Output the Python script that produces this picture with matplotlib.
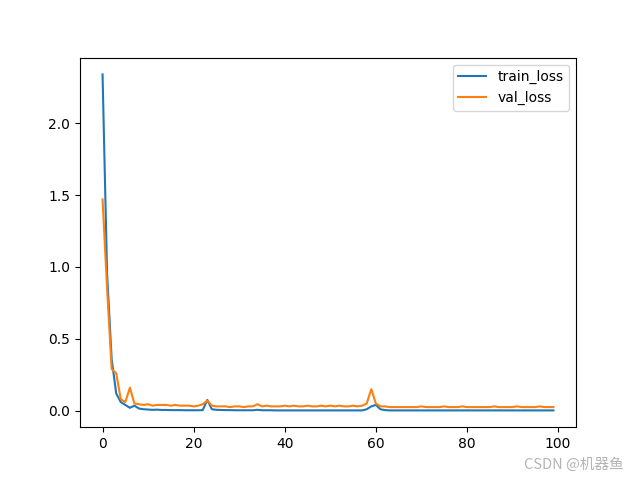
import matplotlib
matplotlib.use("Agg")
import matplotlib.pyplot as plt

epochs = list(range(100))

train_loss = [2.34, 0.95, 0.36, 0.12, 0.06, 0.04, 0.02, 0.035, 0.015, 0.01,
              0.008, 0.006, 0.007, 0.005, 0.005, 0.004, 0.004, 0.004, 0.003, 0.003,
              0.003, 0.003, 0.004, 0.075, 0.01, 0.006, 0.005, 0.004, 0.004, 0.003,
              0.003, 0.003, 0.003, 0.003, 0.006, 0.003, 0.003, 0.003, 0.002, 0.002,
              0.002, 0.002, 0.002, 0.002, 0.002, 0.002, 0.002, 0.002, 0.002, 0.002,
              0.002, 0.002, 0.002, 0.002, 0.002, 0.002, 0.002, 0.002, 0.01, 0.03,
              0.04, 0.01, 0.004, 0.002, 0.002, 0.002, 0.002, 0.002, 0.002, 0.002,
              0.002, 0.002, 0.002, 0.002, 0.002, 0.002, 0.002, 0.002, 0.002, 0.002,
              0.002, 0.002, 0.002, 0.002, 0.002, 0.002, 0.002, 0.002, 0.002, 0.002,
              0.002, 0.002, 0.002, 0.002, 0.002, 0.002, 0.002, 0.002, 0.002, 0.002]

val_loss = [1.47, 0.85, 0.29, 0.26, 0.08, 0.06, 0.16, 0.05, 0.045, 0.04,
            0.045, 0.035, 0.04, 0.04, 0.04, 0.035, 0.04, 0.035, 0.035, 0.035,
            0.03, 0.035, 0.045, 0.07, 0.035, 0.03, 0.03, 0.03, 0.025, 0.03,
            0.03, 0.025, 0.03, 0.03, 0.045, 0.03, 0.035, 0.03, 0.03, 0.03,
            0.035, 0.03, 0.035, 0.03, 0.03, 0.035, 0.03, 0.03, 0.035, 0.03,
            0.035, 0.03, 0.035, 0.03, 0.03, 0.035, 0.03, 0.035, 0.05, 0.15,
            0.05, 0.03, 0.03, 0.025, 0.025, 0.025, 0.025, 0.025, 0.025, 0.025,
            0.03, 0.025, 0.025, 0.025, 0.025, 0.03, 0.025, 0.025, 0.025, 0.03,
            0.025, 0.025, 0.025, 0.025, 0.025, 0.025, 0.03, 0.025, 0.025, 0.025,
            0.025, 0.03, 0.025, 0.025, 0.025, 0.025, 0.03, 0.025, 0.025, 0.025]

fig = plt.figure(figsize=(6.4, 4.8), dpi=100)
plt.plot(epochs, train_loss, label="train_loss")
plt.plot(epochs, val_loss, label="val_loss")
plt.legend()

# watermark
fig.text(0.975, 0.018, "CSDN @机器鱼", ha="right", va="bottom", fontsize=10.5,
         color="#b4b4b4", family=["Noto Sans CJK SC", "DejaVu Sans"])

plt.savefig("out.png")
